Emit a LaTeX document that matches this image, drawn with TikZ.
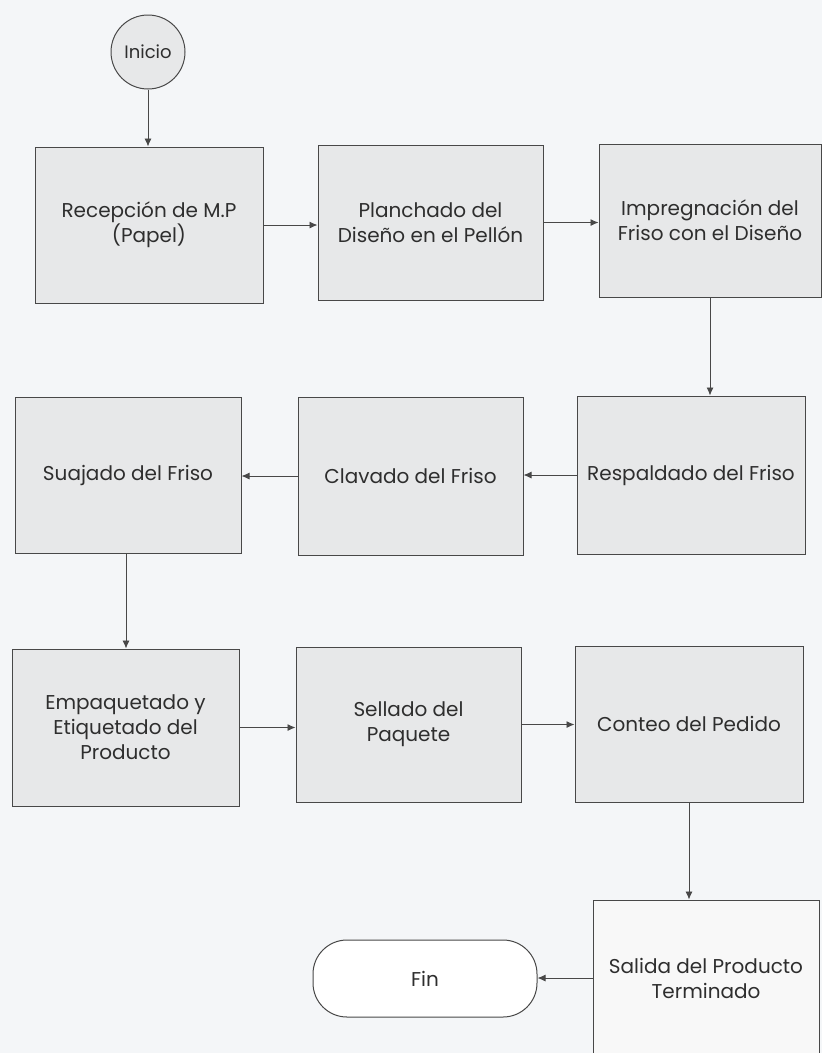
\documentclass[tikz,border=0pt]{standalone}
\usepackage{fontspec}
\setmainfont{Poppins}
\usetikzlibrary{arrows.meta}
\definecolor{bg}{HTML}{F4F6F8}
\definecolor{boxfill}{HTML}{E7E8E9}
\definecolor{edge}{HTML}{484848}
\definecolor{txt}{HTML}{2E2E2E}
\tikzset{
  txtfont/.style={font=\fontsize{20}{25}\selectfont},
  stepbox/.style={draw=edge, line width=1pt, fill=boxfill, minimum width=#1, minimum height=156pt, inner sep=0pt, align=center, text=txt, txtfont},
  stepbox/.default=226pt,
  arr/.style={draw=edge, line width=0.9pt, -{Latex[length=8pt,width=7pt]}},
  startnode/.style={circle, draw=edge, line width=1pt, fill=boxfill, minimum size=74pt, inner sep=0pt, text=txt, font=\fontsize{18}{20}\selectfont},
  endnode/.style={draw=edge, line width=1pt, fill=white, rounded corners=34pt, minimum width=224pt, minimum height=77pt, inner sep=0pt, text=txt, txtfont},
}
\begin{document}
\begin{tikzpicture}[x=1pt,y=1pt]
\fill[bg] (0,0) rectangle (822,-1053);
\useasboundingbox (0,0) rectangle (822,-1053);
\clip (0,0) rectangle (822,-1053);
\node[startnode] (inicio) at (148,-52) {Inicio};
\node[stepbox=228pt] (b1) at (149,-225) {Recepción de M.P\\(Papel)};
\node[stepbox=225pt, minimum height=155pt] (b2) at (430.5,-222.5) {Planchado del\\Diseño en el Pellón};
\node[stepbox=222pt, minimum height=153pt] (b3) at (710,-220.5) {Impregnación del\\Friso con el Diseño};
\node[stepbox=228pt, minimum height=158pt] (b4) at (691,-475) {Respaldado del Friso};
\node[stepbox=225pt, minimum height=158pt] (b5) at (410.5,-476) {Clavado del Friso};
\node[stepbox=226pt] (b6) at (128,-475) {Suajado del Friso};
\node[stepbox=227pt, minimum height=157pt] (b7) at (125.5,-727.5) {Empaquetado y\\Etiquetado del\\Producto};
\node[stepbox=225pt, minimum height=155pt] (b8) at (408.5,-724.5) {Sellado del\\Paquete};
\node[stepbox=228pt] (b9) at (689,-724) {Conteo del Pedido};
\node[stepbox=226pt, fill=white!70!boxfill] (b10) at (706,-978) {Salida del Producto\\Terminado};
\node[endnode] (fin) at (425,-978.5) {Fin};
\draw[arr] (inicio.south) -- (inicio.south |- b1.north);
\draw[arr] (b1.east) -- (b1.east -| b2.west);
\draw[arr] (b2.east) -- (b2.east -| b3.west);
\draw[arr] (b3.south) -- (b3.south |- b4.north);
\draw[arr] (b4.west) -- (b4.west -| b5.east);
\draw[arr] (b5.west) -- (b5.west -| b6.east);
\draw[arr] ([xshift=-2pt]b6.south) -- ([xshift=-2pt]b6.south |- b7.north);
\draw[arr] (b7.east) -- (b7.east -| b8.west);
\draw[arr] (b8.east) -- (b8.east -| b9.west);
\draw[arr] (b9.south) -- (b9.south |- b10.north);
\draw[arr] (b10.west) -- (b10.west -| fin.east);
\end{tikzpicture}
\end{document}
